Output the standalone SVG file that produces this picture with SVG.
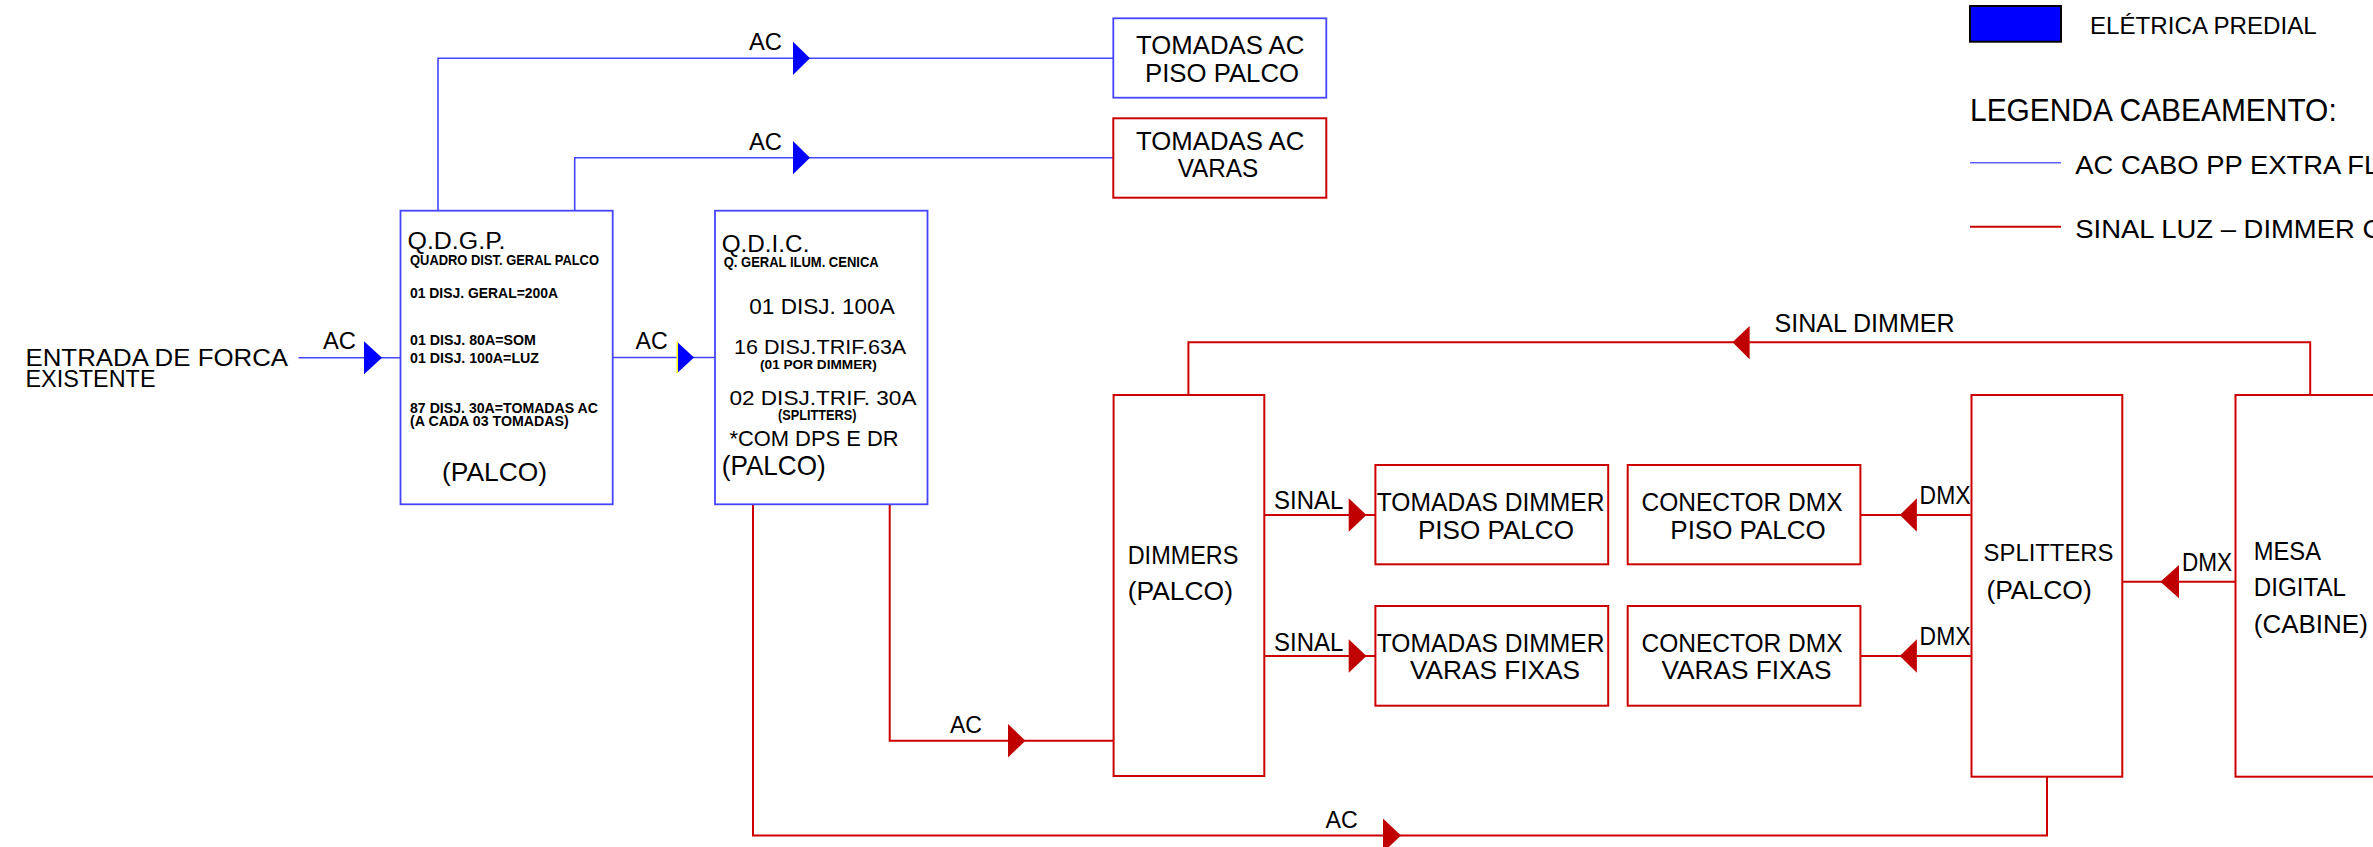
<svg xmlns="http://www.w3.org/2000/svg" width="2373" height="847" viewBox="0 0 2373 847">
<style>
text{font-family:"Liberation Sans",Arial,sans-serif;fill:#000}
.b{font-weight:bold}
.lb{fill:none;stroke:#4545ff;stroke-width:1.6}
.lr{fill:none;stroke:#cc0000;stroke-width:2}
.bb{fill:#fff;stroke:#4545ff;stroke-width:1.8}
.br{fill:#fff;stroke:#cc0000;stroke-width:2}
.ab{fill:#0000ff}
.ar{fill:#c00000}
</style>
<rect width="2373" height="847" fill="#fff"/>

<g id="connectors">
  <!-- blue AC lines -->
  <polyline class="lb" points="438,210.7 438,58.3 1113.3,58.3"/>
  <polygon class="ab" points="793,41.7 793,75 810,58.3"/>
  <polyline class="lb" points="574.7,210.7 574.7,157.7 1113.3,157.7"/>
  <polygon class="ab" points="793,141 793,174.3 810,157.7"/>
  <line class="lb" x1="298.5" y1="357.7" x2="400.5" y2="357.7"/>
  <polygon class="ab" points="364,341.2 364,374.2 382,357.7"/>
  <line class="lb" x1="612.7" y1="357.5" x2="715" y2="357.5"/>
  <polygon class="ab" points="677,341.7 677,373.3 694,357.5"/>
  <line x1="677.3" y1="341.7" x2="677.3" y2="373.3" stroke="#ffff00" stroke-width="1.5"/>
  <!-- red lines -->
  <polyline class="lr" points="889.7,504.3 889.7,740.7 1113.8,740.7"/>
  <polygon class="ar" points="1008,724 1008,757.4 1025.5,740.7"/>
  <polyline class="lr" points="753,504.3 753,835.5 2047,835.5 2047,776.7"/>
  <polygon class="ar" points="1383,818.5 1383,852.5 1401,835.5"/>
  <polyline class="lr" points="2310.2,395 2310.2,342.3 1188.4,342.3 1188.4,395"/>
  <polygon class="ar" points="1749.6,326 1749.6,359.3 1732.5,342.3"/>
  <line class="lr" x1="1264.3" y1="515" x2="1375.4" y2="515"/>
  <polygon class="ar" points="1348.7,498.3 1348.7,531.7 1366.5,515"/>
  <line class="lr" x1="1264.3" y1="656" x2="1375.4" y2="656"/>
  <polygon class="ar" points="1348.7,639.3 1348.7,672.7 1366.5,656"/>
  <line class="lr" x1="1971.3" y1="515" x2="1860.4" y2="515"/>
  <polygon class="ar" points="1916.9,498.3 1916.9,531.7 1899.8,515"/>
  <line class="lr" x1="1971.3" y1="656" x2="1860.4" y2="656"/>
  <polygon class="ar" points="1916.9,639.3 1916.9,672.7 1899.8,656"/>
  <line class="lr" x1="2235.5" y1="581.7" x2="2122.3" y2="581.7"/>
  <polygon class="ar" points="2179,565 2179,598.3 2160.4,581.7"/>
  <!-- connector labels -->
  <text x="749" y="50" font-size="24" textLength="33" lengthAdjust="spacingAndGlyphs">AC</text>
  <text x="749" y="150" font-size="24" textLength="33" lengthAdjust="spacingAndGlyphs">AC</text>
  <text x="323" y="349" font-size="24" textLength="33" lengthAdjust="spacingAndGlyphs">AC</text>
  <text x="635.6" y="349.3" font-size="24" textLength="32.2" lengthAdjust="spacingAndGlyphs">AC</text>
  <text x="950" y="733.3" font-size="24" textLength="32" lengthAdjust="spacingAndGlyphs">AC</text>
  <text x="1325.5" y="827.7" font-size="24" textLength="32.2" lengthAdjust="spacingAndGlyphs">AC</text>
  <text x="1774.6" y="332.3" font-size="26" textLength="180" lengthAdjust="spacingAndGlyphs">SINAL DIMMER</text>
  <text x="1274" y="509.3" font-size="26" textLength="69.3" lengthAdjust="spacingAndGlyphs">SINAL</text>
  <text x="1274" y="650.7" font-size="26" textLength="69.3" lengthAdjust="spacingAndGlyphs">SINAL</text>
  <text x="1919.6" y="504" font-size="25.5" textLength="50.9" lengthAdjust="spacingAndGlyphs">DMX</text>
  <text x="1919.6" y="645" font-size="25.5" textLength="50.9" lengthAdjust="spacingAndGlyphs">DMX</text>
  <text x="2181.9" y="570.7" font-size="25.5" textLength="50.1" lengthAdjust="spacingAndGlyphs">DMX</text>
</g>

<g id="entrada">
  <text x="25.5" y="366" font-size="24.5" textLength="262.5" lengthAdjust="spacingAndGlyphs">ENTRADA DE FORCA</text>
  <text x="25.5" y="387.3" font-size="24.5" textLength="130" lengthAdjust="spacingAndGlyphs">EXISTENTE</text>
</g>

<g id="qdgp">
  <rect class="bb" x="400.5" y="210.7" width="212.2" height="293.6"/>
  <text x="407.5" y="249.3" font-size="23" textLength="98" lengthAdjust="spacingAndGlyphs">Q.D.G.P.</text>
  <text class="b" x="410" y="265" font-size="15" textLength="189" lengthAdjust="spacingAndGlyphs">QUADRO DIST. GERAL PALCO</text>
  <text class="b" x="410" y="298.3" font-size="15.5" textLength="148" lengthAdjust="spacingAndGlyphs">01 DISJ. GERAL=200A</text>
  <text class="b" x="410" y="345" font-size="15.5" textLength="125.8" lengthAdjust="spacingAndGlyphs">01 DISJ. 80A=SOM</text>
  <text class="b" x="410" y="363.3" font-size="15.5" textLength="129" lengthAdjust="spacingAndGlyphs">01 DISJ. 100A=LUZ</text>
  <text class="b" x="410" y="413" font-size="15.5" textLength="188" lengthAdjust="spacingAndGlyphs">87 DISJ. 30A=TOMADAS AC</text>
  <text class="b" x="410" y="426.3" font-size="14.5" textLength="158.7" lengthAdjust="spacingAndGlyphs">(A CADA 03 TOMADAS)</text>
  <text x="442" y="481" font-size="26.5" textLength="105" lengthAdjust="spacingAndGlyphs">(PALCO)</text>
</g>

<g id="qdic">
  <rect class="bb" x="715" y="210.7" width="212.5" height="293.6"/>
  <text x="721.7" y="252" font-size="24" textLength="87.7" lengthAdjust="spacingAndGlyphs">Q.D.I.C.</text>
  <text class="b" x="723.7" y="267.3" font-size="15" textLength="155" lengthAdjust="spacingAndGlyphs">Q. GERAL ILUM. CENICA</text>
  <text x="749.3" y="314.3" font-size="22.5" textLength="145.4" lengthAdjust="spacingAndGlyphs">01 DISJ. 100A</text>
  <text x="734" y="354" font-size="21" textLength="172.2" lengthAdjust="spacingAndGlyphs">16 DISJ.TRIF.63A</text>
  <text class="b" x="760" y="369.2" font-size="13.5" textLength="116.7" lengthAdjust="spacingAndGlyphs">(01 POR DIMMER)</text>
  <text x="729.4" y="405" font-size="21" textLength="187.1" lengthAdjust="spacingAndGlyphs">02 DISJ.TRIF. 30A</text>
  <text class="b" x="778" y="420.2" font-size="14" textLength="78.5" lengthAdjust="spacingAndGlyphs">(SPLITTERS)</text>
  <text x="729.4" y="446" font-size="21.5" textLength="169.2" lengthAdjust="spacingAndGlyphs">*COM DPS E DR</text>
  <text x="721.7" y="474.5" font-size="27.5" textLength="104.1" lengthAdjust="spacingAndGlyphs">(PALCO)</text>
</g>

<g id="tomadas-ac-piso">
  <rect class="bb" x="1113.3" y="18.3" width="213" height="79.4"/>
  <text x="1136" y="54" font-size="25" textLength="168.3" lengthAdjust="spacingAndGlyphs">TOMADAS AC</text>
  <text x="1145" y="81.7" font-size="25" textLength="154" lengthAdjust="spacingAndGlyphs">PISO PALCO</text>
</g>

<g id="tomadas-ac-varas">
  <rect class="br" x="1113.3" y="118.3" width="213" height="79.4"/>
  <text x="1136" y="150" font-size="25" textLength="168.3" lengthAdjust="spacingAndGlyphs">TOMADAS AC</text>
  <text x="1177.7" y="177.3" font-size="25" textLength="80.6" lengthAdjust="spacingAndGlyphs">VARAS</text>
</g>

<g id="dimmers">
  <rect class="br" x="1113.6" y="395" width="150.7" height="381"/>
  <text x="1127.7" y="564.3" font-size="25.5" textLength="110.7" lengthAdjust="spacingAndGlyphs">DIMMERS</text>
  <text x="1127.7" y="600" font-size="25.5" textLength="105.3" lengthAdjust="spacingAndGlyphs">(PALCO)</text>
</g>

<g id="tomadas-dimmer-piso">
  <rect class="br" x="1375.4" y="465" width="232.8" height="99.3"/>
  <text x="1376.8" y="511" font-size="25.5" textLength="227.7" lengthAdjust="spacingAndGlyphs">TOMADAS DIMMER</text>
  <text x="1417.9" y="538.7" font-size="25.5" textLength="156.1" lengthAdjust="spacingAndGlyphs">PISO PALCO</text>
</g>

<g id="tomadas-dimmer-varas">
  <rect class="br" x="1375.4" y="606" width="232.8" height="99.7"/>
  <text x="1376.8" y="651.7" font-size="25.5" textLength="227.7" lengthAdjust="spacingAndGlyphs">TOMADAS DIMMER</text>
  <text x="1410" y="679.3" font-size="25.5" textLength="170" lengthAdjust="spacingAndGlyphs">VARAS FIXAS</text>
</g>

<g id="conector-dmx-piso">
  <rect class="br" x="1627.7" y="465" width="232.7" height="99.3"/>
  <text x="1641.5" y="511" font-size="25.5" textLength="201.1" lengthAdjust="spacingAndGlyphs">CONECTOR DMX</text>
  <text x="1670.3" y="538.7" font-size="25.5" textLength="155.5" lengthAdjust="spacingAndGlyphs">PISO PALCO</text>
</g>

<g id="conector-dmx-varas">
  <rect class="br" x="1627.7" y="606" width="232.7" height="99.7"/>
  <text x="1641.5" y="651.7" font-size="25.5" textLength="201.1" lengthAdjust="spacingAndGlyphs">CONECTOR DMX</text>
  <text x="1661.6" y="679.3" font-size="25.5" textLength="169.8" lengthAdjust="spacingAndGlyphs">VARAS FIXAS</text>
</g>

<g id="splitters">
  <rect class="br" x="1971.5" y="395" width="150.8" height="381.7"/>
  <text x="1983.6" y="560.7" font-size="24.5" textLength="129.9" lengthAdjust="spacingAndGlyphs">SPLITTERS</text>
  <text x="1986.4" y="598.5" font-size="25.5" textLength="105.3" lengthAdjust="spacingAndGlyphs">(PALCO)</text>
</g>

<g id="mesa">
  <rect class="br" x="2235.5" y="395" width="200" height="381.7"/>
  <text x="2253.8" y="560" font-size="25.5" textLength="67.2" lengthAdjust="spacingAndGlyphs">MESA</text>
  <text x="2253.8" y="596" font-size="25.5" textLength="92.2" lengthAdjust="spacingAndGlyphs">DIGITAL</text>
  <text x="2253.8" y="632.5" font-size="25.5" textLength="114" lengthAdjust="spacingAndGlyphs">(CABINE)</text>
</g>

<g id="legend">
  <rect x="1970" y="6" width="91" height="35.7" fill="#0000ff" stroke="#000" stroke-width="2"/>
  <text x="2090" y="34.3" font-size="24.5" textLength="226.7" lengthAdjust="spacingAndGlyphs">ELÉTRICA PREDIAL</text>
  <text x="1970" y="120.7" font-size="31" textLength="366.7" lengthAdjust="spacingAndGlyphs">LEGENDA CABEAMENTO:</text>
  <line x1="1970" y1="162.7" x2="2061" y2="162.7" stroke="#6060ff" stroke-width="1.5"/>
  <text x="2075.3" y="174" font-size="25" textLength="304" lengthAdjust="spacingAndGlyphs">AC CABO PP EXTRA FL</text>
  <line x1="1970" y1="226.7" x2="2061" y2="226.7" stroke="#cc0000" stroke-width="2"/>
  <text x="2075.3" y="238.3" font-size="25.5" textLength="307" lengthAdjust="spacingAndGlyphs">SINAL LUZ – DIMMER C</text>
</g>
</svg>
